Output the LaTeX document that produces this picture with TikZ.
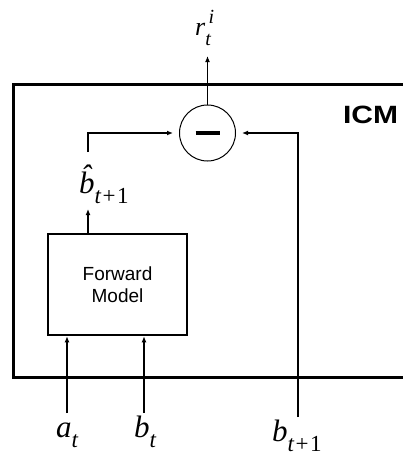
\documentclass[tikz,border=0pt]{standalone}
\usepackage{fontspec}
\setmainfont{Liberation Serif}
\newfontfamily\sfh{Liberation Sans}
\usetikzlibrary{arrows.meta}
\newcommand\subsz[1]{\raisebox{-10pt}{\fontsize{23}{23}\selectfont #1}}
\newcommand\tplus{t\upshape\hspace{1.5pt}+\hspace{1.5pt}1}
\begin{document}
\begin{tikzpicture}[x=1pt,y=-1pt,
  arr/.style={-{Latex[length=6pt,width=5pt]}, line width=1.2pt},
  lab/.style={inner sep=0pt, font=\fontsize{31}{31}\selectfont\itshape}]
\useasboundingbox (0,0) rectangle (403,455);
\begin{scope}
\clip (0,0) rectangle (403,455);
\draw[line width=3pt] (420,84) -- (13,84) -- (13,377) -- (420,377);
\end{scope}
\node[draw, circle, minimum size=56pt, inner sep=0pt, line width=1pt] (diff) at (207.5,133) {\rule{24pt}{4.5pt}};
\node[draw, line width=2.5pt, minimum width=139pt, minimum height=101pt, align=center,
  font=\sfh\fontsize{19}{22}\selectfont] (fm) at (117.5,284.5) {Forward\\Model};
\node[font=\sfh\bfseries\fontsize{25}{25}\selectfont, inner sep=0pt] (icm) at (370.5,115) {\scalebox{1.2}[1]{ICM}};
\node[lab, font=\fontsize{26}{26}\selectfont\itshape, anchor=base west] (r) at (195,35)
  {r\rlap{\raisebox{12pt}{\fontsize{20}{20}\selectfont\,i}}\raisebox{-10pt}{\fontsize{20}{20}\selectfont t}};
\node[lab, anchor=base west] (bh) at (79,193) {\^{b}\subsz{\tplus}};
\node[lab, anchor=base west] (a) at (56,437) {a\subsz{t}};
\node[lab, anchor=base west] (bt) at (134,437) {b\subsz{t}};
\node[lab, anchor=base west] (b1) at (272,441) {b\subsz{\tplus}};
\coordinate (rin) at (207.5,56);
\coordinate (bhtop) at (88,152);
\coordinate (fmtop) at (88,234);
\coordinate (bhbot) at (88,209);
\coordinate (aout) at (67,413);
\coordinate (btout) at (144,413);
\coordinate (b1out) at (298,417);
\draw[arr] (diff.north) -- (rin);
\draw[arr, shorten >=6pt] (bhtop) |- (diff.west);
\draw[arr] (fmtop) -- (bhbot);
\draw[arr] (aout) -- (aout |- fm.south);
\draw[arr] (btout) -- (btout |- fm.south);
\draw[arr, shorten >=6pt] (b1out) |- (diff.east);
\end{tikzpicture}
\end{document}
